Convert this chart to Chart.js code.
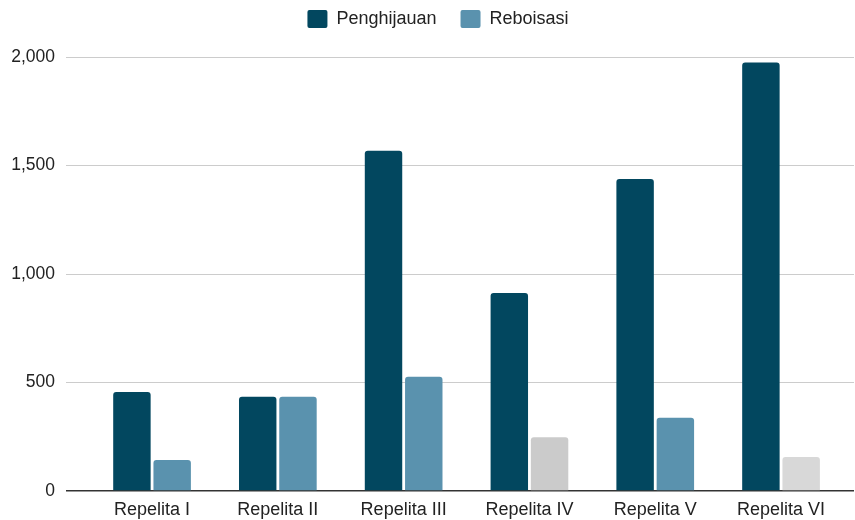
<!DOCTYPE html>
<html>
<head>
<meta charset="utf-8">
<script src="https://cdn.jsdelivr.net/npm/chart.js@4/dist/chart.umd.min.js"></script>
<style>
  html, body { margin: 0; padding: 0; background: #fff; }
  #wrap { width: 855px; height: 520px; }
</style>
</head>
<body>
<div id="wrap"><canvas id="chart" width="855" height="520"></canvas></div>
<script>
const categories = ['Repelita I', 'Repelita II', 'Repelita III', 'Repelita IV', 'Repelita V', 'Repelita VI'];
const penghijauan = [456, 434, 1568, 912, 1438, 1975];
const reboisasi = [143, 434, 526, 248, 337, 157];
const yTicks = [0, 500, 1000, 1500, 2000];

const DARK = '#02475f';
const LIGHT = '#5a92ae';
// Reboisasi bars for Repelita IV and VI are greyed out in the source chart
const reboisasiColors = [LIGHT, LIGHT, LIGHT, '#cbcbcb', LIGHT, '#d8d8d8'];

const FAMILY = 'Arial, "Liberation Sans", Helvetica, sans-serif';

// fixed legend height, and nudge the legend a bit right like the original
const legendTweak = {
    id: 'legendTweak',
    beforeInit(chart) {
        const fit = chart.legend.fit;
        chart.legend.fit = function() {
            fit.bind(chart.legend)();
            this.height = 71;
        };
    },
    beforeDraw(chart) {
        const lg = chart.legend;
        if (!lg._shifted) {
            lg.left += 11;
            lg.right += 11;
            lg._shifted = true;
        }
    },
    afterLayout(chart) {
        chart.legend._shifted = false;
    }
};

new Chart(document.getElementById('chart'), {
    type: 'bar',
    data: {
        datasets: [
            {
                label: 'Penghijauan',
                data: penghijauan.map((v, i) => ({ x: i, y: v })),
                backgroundColor: DARK,
                borderRadius: { topLeft: 3, topRight: 3 },
                borderSkipped: 'bottom',
                categoryPercentage: 0.64,
                barPercentage: 0.93
            },
            {
                label: 'Reboisasi',
                data: reboisasi.map((v, i) => ({ x: i, y: v })),
                backgroundColor: ctx => (ctx.dataIndex === undefined ? LIGHT : reboisasiColors[ctx.dataIndex]),
                borderRadius: { topLeft: 3, topRight: 3 },
                borderSkipped: 'bottom',
                categoryPercentage: 0.64,
                barPercentage: 0.93
            }
        ]
    },
    options: {
        responsive: false,
        animation: false,
        layout: { padding: { top: -14, left: 0, right: 1, bottom: 0 } },
        plugins: {
            legend: {
                position: 'top',
                labels: {
                    boxWidth: 20,
                    boxHeight: 18,
                    padding: 24,
                    color: '#222',
                    font: { family: FAMILY, size: 18 },
                    useBorderRadius: true,
                    borderRadius: 2
                }
            },
            tooltip: { enabled: false }
        },
        scales: {
            x: {
                type: 'linear',
                offset: false,
                min: -0.684,
                max: 5.58,
                grid: { display: false, drawTicks: false, tickLength: 0 },
                border: { display: false },
                afterBuildTicks: scale => { scale.ticks = categories.map((c, i) => ({ value: i })); },
                afterFit: scale => { scale.height = 29; },
                ticks: {
                    color: '#222',
                    font: { family: FAMILY, size: 18 },
                    padding: 8,
                    maxRotation: 0,
                    autoSkip: false,
                    callback: value => categories[value]
                }
            },
            y: {
                min: 0,
                max: 2000,
                afterFit: scale => { scale.width = 66; },
                afterBuildTicks: scale => { scale.ticks = yTicks.map(v => ({ value: v })); },
                grid: {
                    color: ctx => (ctx.tick && ctx.tick.value === 0 ? '#333' : '#cccccc'),
                    lineWidth: ctx => (ctx.tick && ctx.tick.value === 0 ? 1.4 : 1),
                    drawTicks: false
                },
                border: { display: false },
                ticks: {
                    color: '#222',
                    font: { family: FAMILY, size: 17.5 },
                    padding: 11,
                    callback: v => v.toLocaleString('en-US')
                }
            }
        }
    },
    plugins: [legendTweak]
});
</script>
</body>
</html>
